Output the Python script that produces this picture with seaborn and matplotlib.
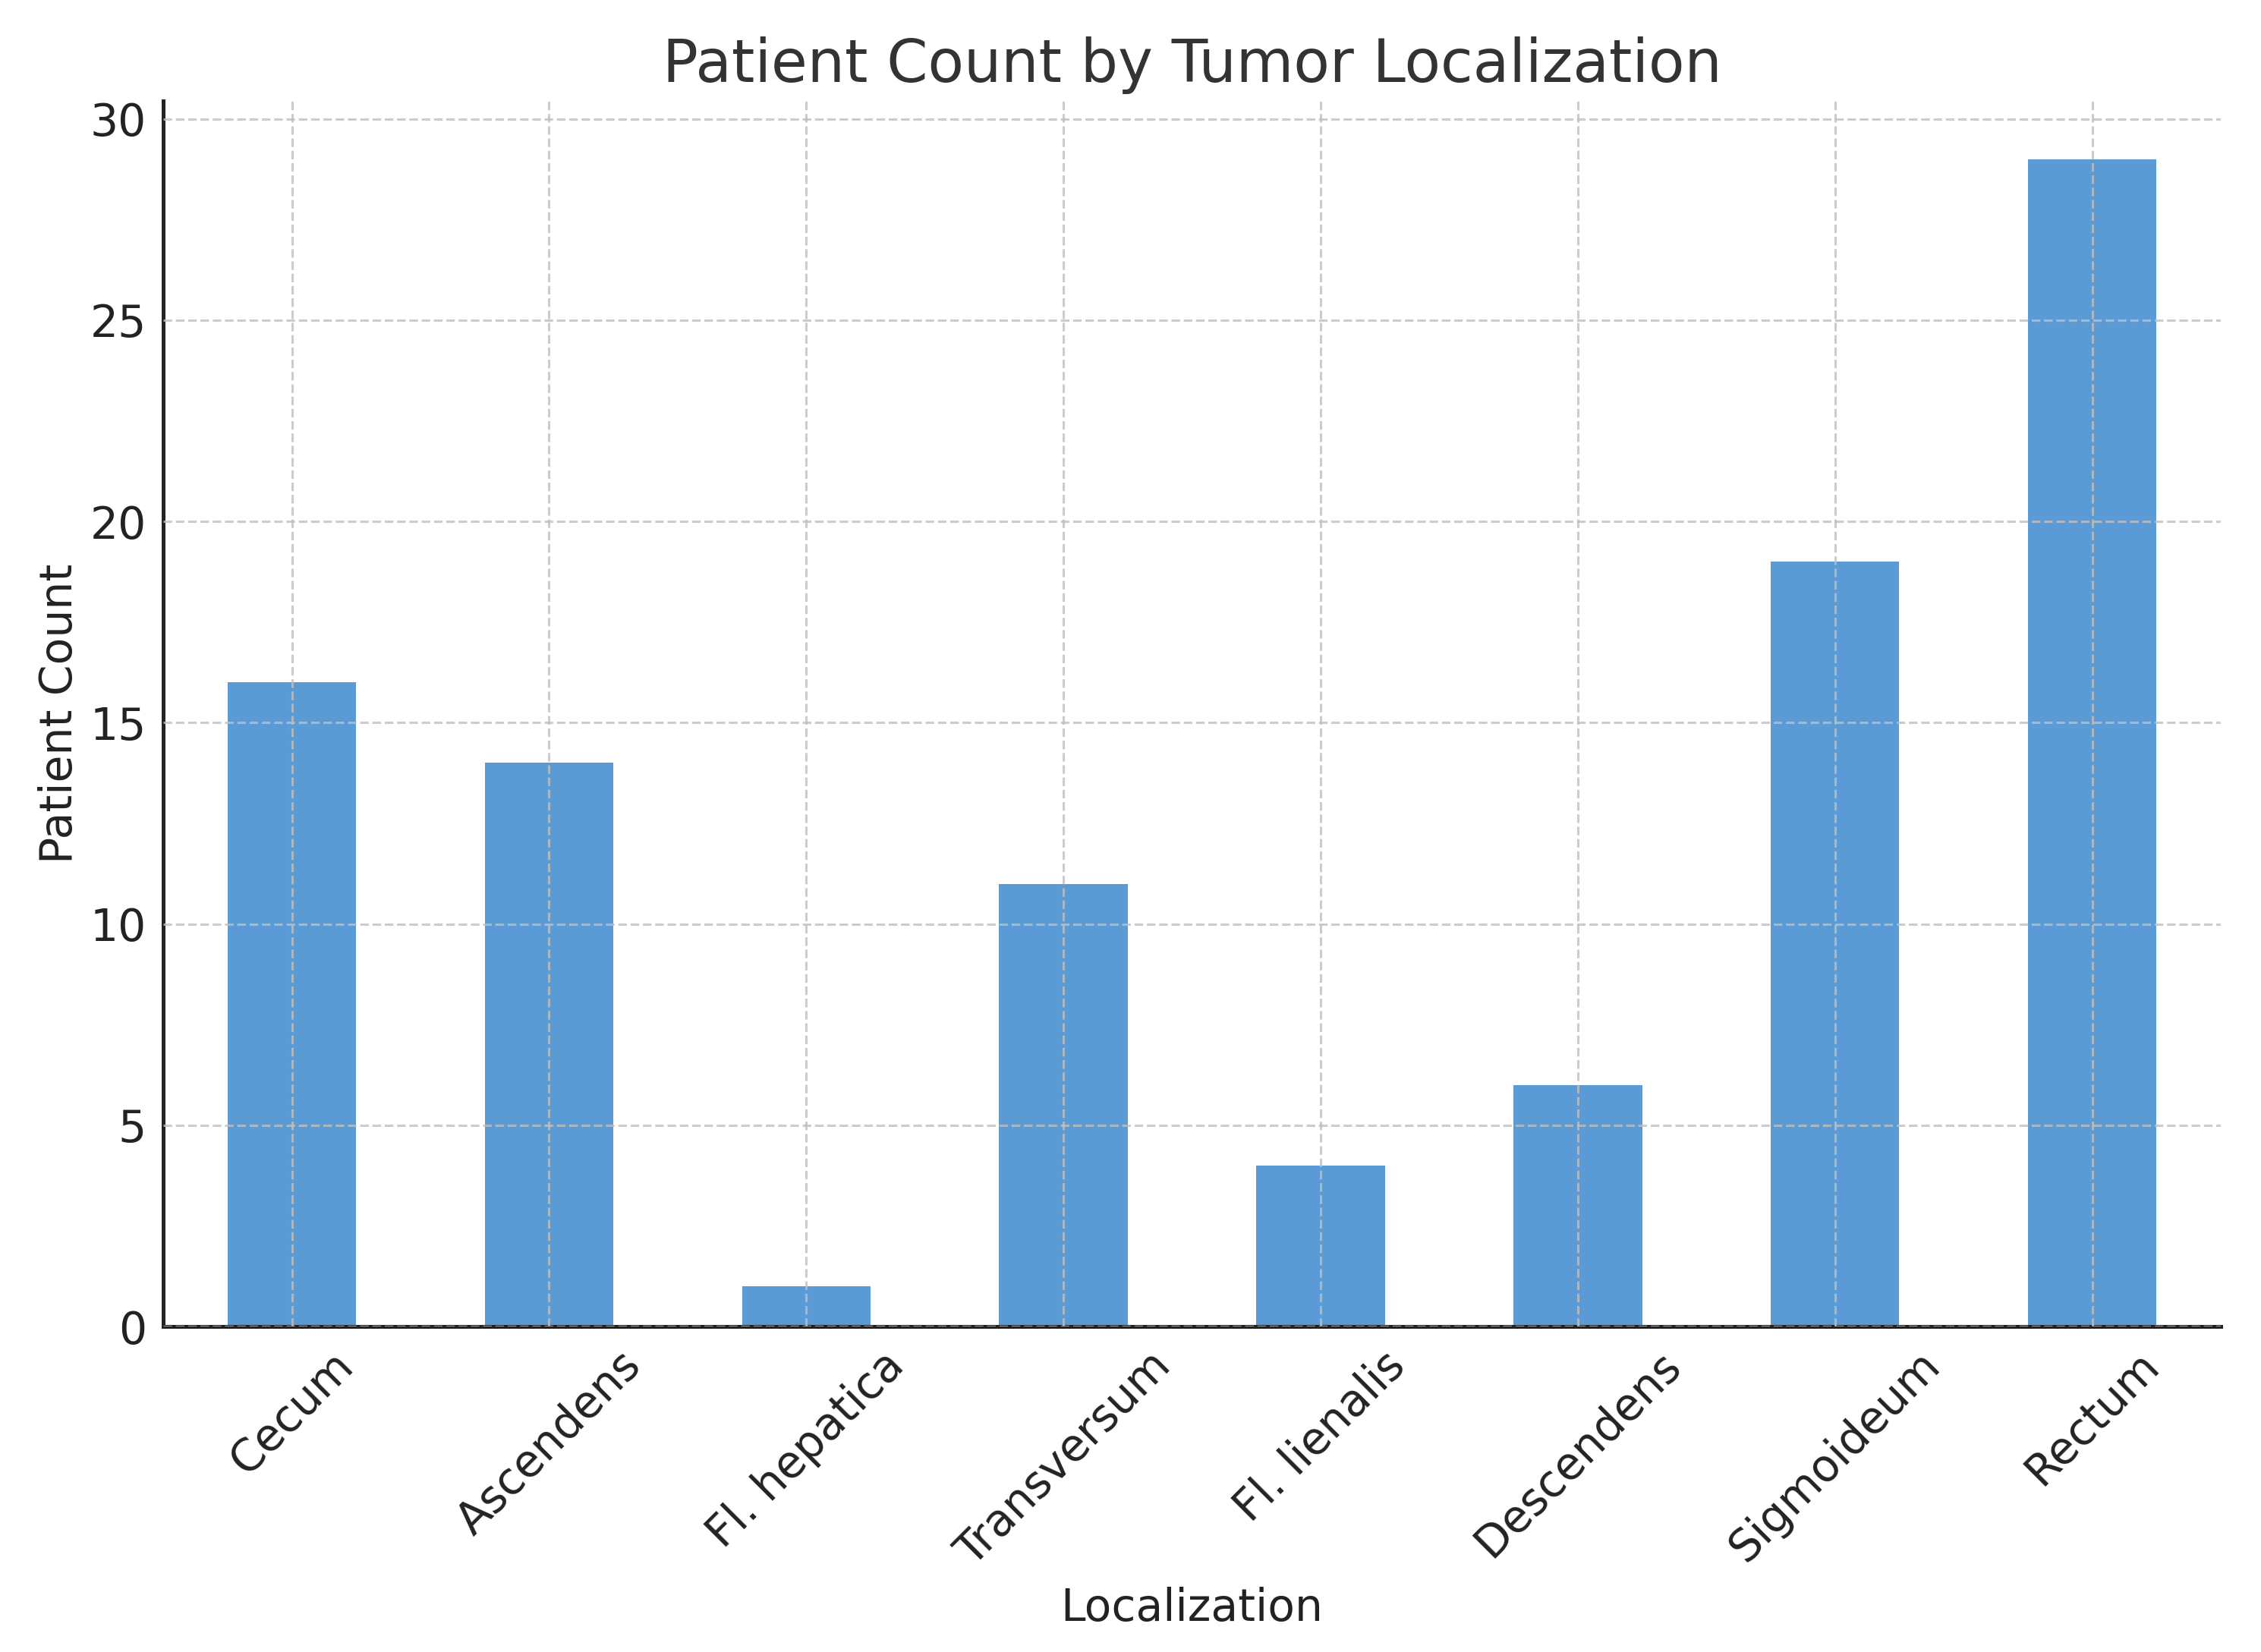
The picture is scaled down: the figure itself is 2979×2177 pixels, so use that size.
import matplotlib
matplotlib.use('Agg')
import matplotlib.pyplot as plt
import seaborn as sns
import pandas as pd

# data
localizations = ['Cecum', 'Ascendens', 'Fl. hepatica', 'Transversum',
                 'Fl. lienalis', 'Descendens', 'Sigmoideum', 'Rectum']
patient_counts = [16, 14, 1, 11, 4, 6, 19, 29]

df = pd.DataFrame({'Localization': localizations, 'Patient Count': patient_counts})

sns.set_style('white')
plt.rcParams['font.family'] = ['DejaVu Sans']

fig = plt.figure(figsize=(14.895, 10.885), dpi=200)
ax = fig.add_axes([0.0722, 0.197, 0.91, 0.742])

sns.barplot(data=df, x='Localization', y='Patient Count', color='#5B9BD5',
            width=0.5, saturation=1, linewidth=0, ax=ax)

ax.set_xlim(-0.5, 7.5)
ax.set_ylim(0, max(patient_counts) * 1.05)
ax.set_yticks([0, 5, 10, 15, 20, 25, 30])

ax.grid(True, linestyle='--', color='#c0c0c0', linewidth=1.1, alpha=0.8)
ax.set_axisbelow(False)

for side in ['top', 'right']:
    ax.spines[side].set_visible(False)
for side in ['left', 'bottom']:
    ax.spines[side].set_color('#222222')
    ax.spines[side].set_linewidth(1.8)

ax.tick_params(axis='both', direction='in', length=8, width=1.4, color='#222222',
               labelsize=21, labelcolor='#222222', pad=8)
plt.setp(ax.get_xticklabels(), rotation=45, ha='center')

ax.set_title('Patient Count by Tumor Localization', fontsize=28, color='#333333', pad=9)
ax.set_xlabel('Localization', fontsize=21, color='#222222', labelpad=6)
ax.set_ylabel('Patient Count', fontsize=21, color='#222222', labelpad=4)

fig.savefig('out.png', dpi=200)
